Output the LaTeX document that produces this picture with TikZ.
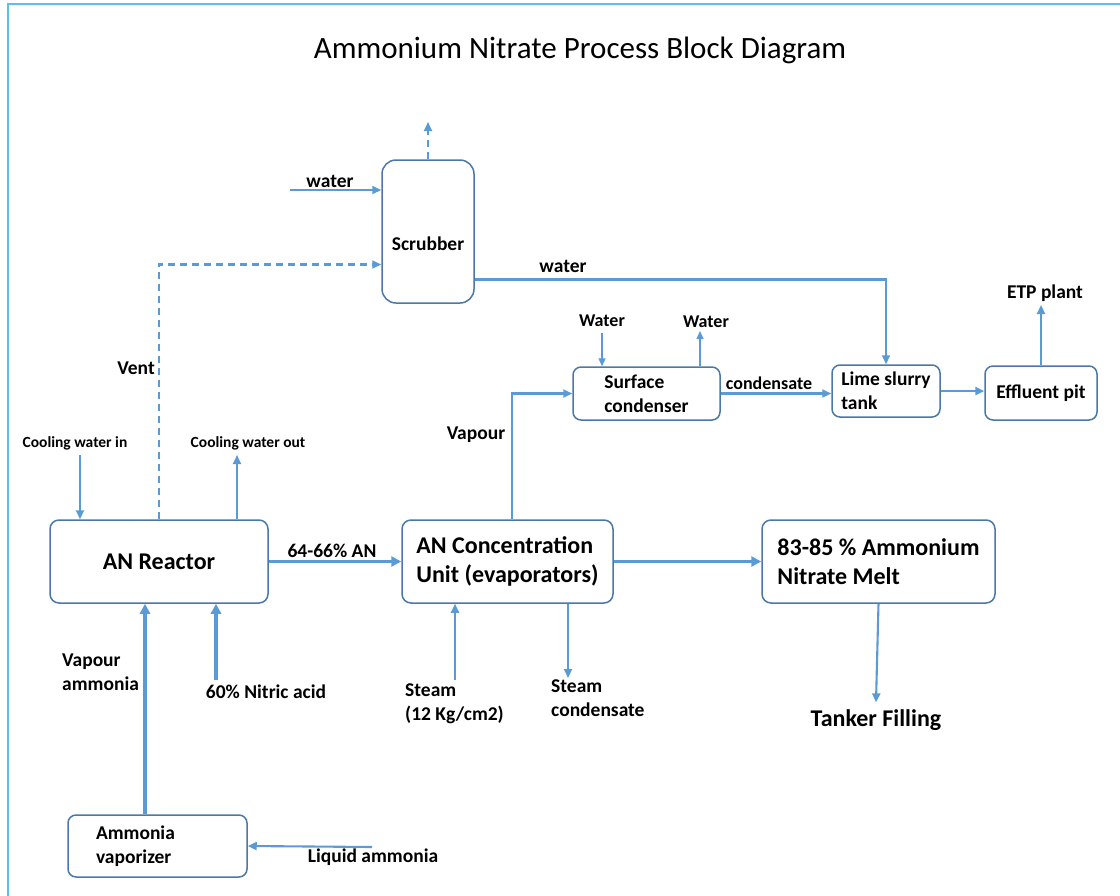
\documentclass[tikz,border=0pt]{standalone}
\usepackage{fontspec}
\setmainfont{Carlito}
\usepackage{tikz}
\usetikzlibrary{arrows.meta,positioning}
\definecolor{FlowBlue}{RGB}{91,155,213}
\definecolor{BoxBlue}{RGB}{75,120,165}
\definecolor{FrameCyan}{RGB}{95,190,225}

\begin{document}
\begin{tikzpicture}[
  x=1pt,y=-1pt,
  unit/.style={draw=BoxBlue,line width=1.5pt,rounded corners=9pt,fill=white,align=left,inner sep=0pt,
    font=\bfseries\fontsize{24}{29.5}\selectfont},
  smallunit/.style={unit,rounded corners=8pt,font=\bfseries\fontsize{19.5}{24}\selectfont},
  feed/.style={FlowBlue,line width=2.1pt,-{Triangle[length=9pt,width=8pt]}},
  main/.style={feed,line width=3.3pt,-{Triangle[length=10pt,width=10pt]}},
  tap/.style={feed,line width=1.2pt,-{Triangle[length=8pt,width=7pt]}},
  vent/.style={feed,dashed,dash pattern=on 7pt off 5pt},
  tag/.style={font=\bfseries\fontsize{19.5}{24}\selectfont,align=left,inner sep=0pt},
  bigtag/.style={tag,font=\bfseries\fontsize{24}{29.5}\selectfont},
  tinytag/.style={tag,font=\bfseries\fontsize{15.5}{19}\selectfont}]
\useasboundingbox (0,0) rectangle (1120,895);
\draw[FrameCyan,line width=2.5pt] (8,900) -- (8,4) -- (1125,4);
\node[font=\fontsize{31}{37}\selectfont] (title) at (580,50) {Ammonium Nitrate Process Block Diagram};

% process units
\node[smallunit,rounded corners=14pt,align=center,text height=38pt,minimum width=92pt,minimum height=143pt] (scrubber) at (428,231.5) {Scrubber};
\node[smallunit,minimum width=147pt,minimum height=53pt] (cond) at (646.5,393.5) {Surface\\condenser};
\node[smallunit,minimum width=108pt,minimum height=52pt] (lime) at (886,391) {Lime slurry\\tank};
\node[smallunit,minimum width=112pt,minimum height=54pt] (pit) at (1041,393) {Effluent pit};
\node[unit,align=center,minimum width=218pt,minimum height=83pt] (reactor) at (159,561.5) {AN Reactor};
\node[unit,minimum width=211pt,minimum height=83pt] (conc) at (507.5,561.5) {AN Concentration\\Unit (evaporators)};
\node[unit,minimum width=233pt,minimum height=83pt] (melt) at (878.5,561.5) {83-85 \% Ammonium\\Nitrate Melt};
\node[smallunit,text width=123pt,inner xsep=28pt,minimum height=62pt] (vapo) at (157.5,846) {Ammonia\\vaporizer};

% free ends
\coordinate (stack) at (428,122);
\coordinate (wIn) at (290,190);
\coordinate (cwsIn) at (602,333);
\coordinate (cwsOut) at (700,331);
\coordinate (etp) at (1041,305);
\coordinate (cwIn) at (80,455);
\coordinate (cwOut) at (237,455);
\coordinate (nitric) at (216,680);
\coordinate (steamIn) at (455,680);
\coordinate (steamOut) at (568,678);
\coordinate (liq) at (372,847);

% labels
\node[tag] (waterA) at (330,181) {water};
\node[tag,anchor=east] (ventlbl) at (155,368) {Vent};
\node[tag] (waterB) at (563,266) {water};
\node[tag,font=\bfseries\fontsize{18}{22}\selectfont] (waterC) at (602,321) {Water};
\node[tag,font=\bfseries\fontsize{18}{22}\selectfont] (waterD) at (706,322) {Water};
\node[tag] (vapour) at (476,435) {Vapour};
\node[tag,font=\bfseries\fontsize{18}{22}\selectfont] (condlbl) at (769,383) {condensate};
\node[tag] (etplbl) at (1045,293) {ETP plant};
\node[tinytag] (cwinlbl) at (75,443) {Cooling water in};
\node[tinytag] (cwoutlbl) at (248,443) {Cooling water out};
\node[tag] (anlbl) at (332,551) {64-66\% AN};
\node[tag,anchor=west] (valbl) at (62,672) {Vapour\\ammonia};
\node[tag] (nitriclbl) at (266,692) {60\% Nitric acid};
\node[tag,anchor=west] (steamlbl) at (405,704) {Steam\\(12 Kg/cm2)};
\node[tag,anchor=west] (sclbl) at (551,698) {Steam\\condensate};
\node[bigtag] (tank) at (876,720) {Tanker Filling};
\node[tag] (liqlbl) at (373,857) {Liquid ammonia};

% streams
\draw[vent] (scrubber.north) -- (stack);
\draw[feed] (wIn) -- (wIn -| scrubber.west);
\draw[vent] (reactor.north) |- ([yshift=-33pt]scrubber.west);
\draw[feed] ([yshift=-48pt]scrubber.east) -| (lime.north);
\draw[tap] (cwsIn) -- (cwsIn |- cond.north);
\draw[tap] (cond.north -| cwsOut) -- (cwsOut);
\draw[feed] ([xshift=4.5pt]conc.north) |- (cond.west);
\draw[feed] (cond.east) -- (cond.east -| lime.west);
\draw[feed,line width=2.8pt] (lime.east) -- (lime.east -| pit.west);
\draw[feed] (pit.north) -- (etp);
\draw[feed] (cwIn) -- (cwIn |- reactor.north);
\draw[feed] (reactor.north -| cwOut) -- (cwOut);
\draw[main] (reactor.east) -- (conc.west);
\draw[main] (conc.east) -- (melt.west);
\draw[main] ([xshift=-12.5pt]vapo.north) -- ([xshift=-12.5pt]vapo.north |- reactor.south);
\draw[main] (nitric) -- (nitric |- reactor.south);
\draw[feed] (steamIn) -- (steamIn |- conc.south);
\draw[feed] (conc.south -| steamOut) -- (steamOut);
\draw[feed] (melt.south) -- ([yshift=7pt]tank.north);
\draw[feed] (liq) -- (vapo.east);
\end{tikzpicture}
\end{document}
